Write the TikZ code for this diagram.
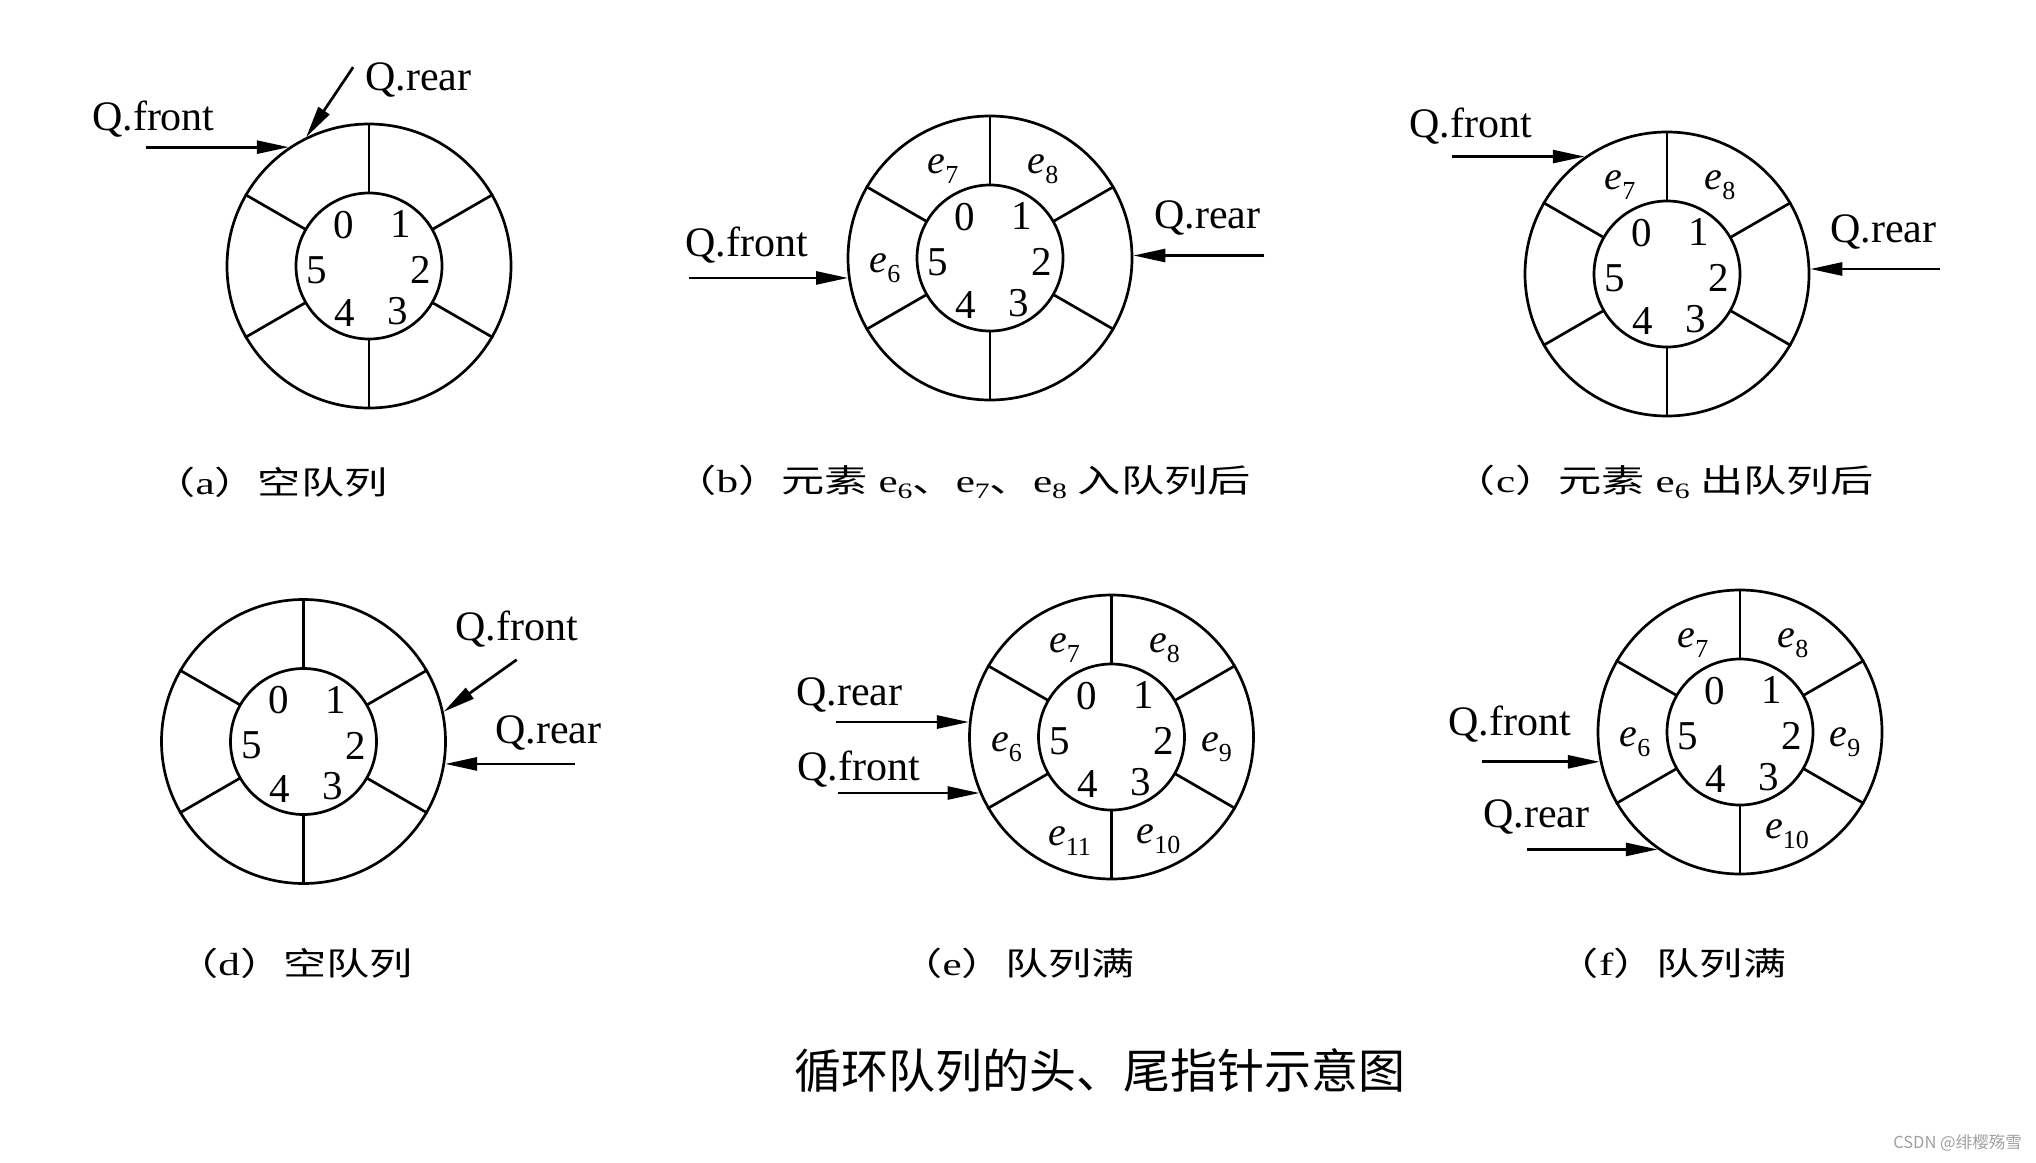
\documentclass[tikz,border=0pt]{standalone}
\usepackage{fontspec}
\usepackage{graphicx}
\setmainfont{Liberation Serif}
\newfontfamily\cjk{Noto Sans CJK SC}
\usetikzlibrary{arrows.meta,calc}
\newcommand{\esub}[1]{\raisebox{-10pt}{\fontsize{26}{26}\selectfont\upshape #1}}
\newcommand{\csub}[1]{\raisebox{-6pt}{\fontsize{22}{22}\selectfont #1}}
\newcommand{\qring}[3]{%
  \node[ring] (#1) at (#2,#3) {};
  \node[hub] (#1i) at (#2,#3) {};
  \foreach \ang in {90,30,-30,-90,-150,150} \draw[spoke] (#1i.\ang) -- (#1.\ang);
  \node[num] (#1n0) at ($(#1)+(-25,-41)$) {0};
  \node[num] (#1n1) at ($(#1)+(32,-42)$) {1};
  \node[num] (#1n2) at ($(#1)+(52,4)$) {2};
  \node[num] (#1n3) at ($(#1)+(29,45)$) {3};
  \node[num] (#1n4) at ($(#1)+(-24,47)$) {4};
  \node[num] (#1n5) at ($(#1)+(-52,4)$) {5};
}
\begin{document}
\begin{tikzpicture}[x=1pt,y=-1pt,
  ring/.style={circle,draw,line width=2.7pt,minimum size=284pt,inner sep=0pt},
  hub/.style={circle,draw,line width=2.7pt,minimum size=146pt,inner sep=0pt,outer sep=0pt},
  spoke/.style={line width=2.7pt},
  ptr/.style={line width=2.7pt,-{Triangle[length=32pt,width=13pt]}},
  lbl/.style={inner sep=0pt,anchor=base west,font=\fontsize{42}{42}\selectfont},
  num/.style={inner sep=0pt,font=\fontsize{41}{41}\selectfont},
  elem/.style={inner sep=0pt,anchor=base,font=\fontsize{40}{40}\selectfont\itshape},
  captxt/.style={inner sep=0pt},
]
\useasboundingbox (0,0) rectangle (2036,1162);

% (a)
\qring{A}{369}{266}
\coordinate (Aft) at ([xshift=-143pt]A.124);
\coordinate (Art) at ([shift={(47,-70)}]A.116);
\draw[ptr] (Aft) -- (A.124);
\draw[ptr] (Art) -- (A.116);
\node[lbl] (Afl) at (92,130) {Q.front};
\node[lbl] (Arl) at (365,90) {Q.rear};

% (b)
\qring{B}{990}{258}
\node[elem] (Be7) at ($(B)+(-47,-85)$) {e\esub{7}};
\node[elem] (Be8) at ($(B)+(53,-85)$) {e\esub{8}};
\node[elem] (Be6) at ($(B)+(-105,14)$) {e\esub{6}};
\coordinate (Bft) at ([xshift=-159pt]B.188);
\coordinate (Brt) at ([xshift=131pt]B.1);
\draw[ptr] (Bft) -- (B.188);
\draw[ptr] (Brt) -- (B.1);
\node[lbl] (Bfl) at (685,256) {Q.front};
\node[lbl] (Brl) at (1154,228) {Q.rear};

% (c)
\qring{C}{1667}{274}
\node[elem] (Ce7) at ($(C)+(-47,-85)$) {e\esub{7}};
\node[elem] (Ce8) at ($(C)+(53,-85)$) {e\esub{8}};
\coordinate (Cft) at ([xshift=-133pt]C.125);
\coordinate (Crt) at ([xshift=130pt]C.2);
\draw[ptr] (Cft) -- (C.125);
\draw[ptr] (Crt) -- (C.2);
\node[lbl] (Cfl) at (1409,137) {Q.front};
\node[lbl] (Crl) at (1830,242) {Q.rear};

% (d)
\qring{D}{303.5}{741.5}
\coordinate (Dft) at ([shift={(73,-52)}]D.12);
\coordinate (Drt) at ([xshift=130pt]D.-9);
\draw[ptr] (Dft) -- (D.12);
\draw[ptr] (Drt) -- (D.-9);
\node[lbl] (Dfl) at (455,640) {Q.front};
\node[lbl] (Drl) at (495,743) {Q.rear};

% (e)
\qring{E}{1111.5}{737}
\node[elem] (Ee7) at ($(E)+(-47,-85)$) {e\esub{7}};
\node[elem] (Ee8) at ($(E)+(53,-85)$) {e\esub{8}};
\node[elem] (Ee9) at ($(E)+(105,14)$) {e\esub{9}};
\node[elem] (Ee10) at ($(E)+(47,106)$) {e\esub{10}};
\node[elem] (Ee11) at ($(E)+(-42,108)$) {e\esub{11}};
\node[elem] (Ee6) at ($(E)+(-105,14)$) {e\esub{6}};
\coordinate (Ert) at ([xshift=-133pt]E.174);
\coordinate (Eft) at ([xshift=-142pt]E.203);
\draw[ptr] (Ert) -- (E.174);
\draw[ptr] (Eft) -- (E.203);
\node[lbl] (Erl) at (796,705) {Q.rear};
\node[lbl] (Efl) at (797,780) {Q.front};

% (f)
\qring{F}{1740}{732}
\node[elem] (Fe7) at ($(F)+(-47,-85)$) {e\esub{7}};
\node[elem] (Fe8) at ($(F)+(53,-85)$) {e\esub{8}};
\node[elem] (Fe9) at ($(F)+(105,14)$) {e\esub{9}};
\node[elem] (Fe10) at ($(F)+(47,106)$) {e\esub{10}};
\node[elem] (Fe6) at ($(F)+(-105,14)$) {e\esub{6}};
\coordinate (Fft) at ([xshift=-118pt]F.192);
\coordinate (Frt) at ([xshift=-131pt]F.235);
\draw[ptr] (Fft) -- (F.192);
\draw[ptr] (Frt) -- (F.235);
\node[lbl] (Ffl) at (1448,735) {Q.front};
\node[lbl] (Frl) at (1483,827) {Q.rear};

% captions
\node[captxt] (capA) at (270,482) {\scalebox{1.35}[1]{\fontsize{32}{32}\selectfont{\cjk （}a{\cjk ）空队列}}};
\node[captxt] (capB) at (962,482) {\scalebox{1.35}[1]{\fontsize{32}{32}\selectfont{\cjk （}b{\cjk ）元素} e\csub{6}{\cjk 、}e\csub{7}{\cjk 、}e\csub{8} {\cjk 入队列后}}};
\node[captxt] (capC) at (1663,482) {\scalebox{1.35}[1]{\fontsize{32}{32}\selectfont{\cjk （}c{\cjk ）元素} e\csub{6} {\cjk 出队列后}}};
\node[captxt] (capD) at (294,963) {\scalebox{1.35}[1]{\fontsize{32}{32}\selectfont{\cjk （}d{\cjk ）空队列}}};
\node[captxt] (capE) at (1017,963) {\scalebox{1.35}[1]{\fontsize{32}{32}\selectfont{\cjk （}e{\cjk ）队列满}}};
\node[captxt] (capF) at (1671,963) {\scalebox{1.35}[1]{\fontsize{32}{32}\selectfont{\cjk （}f{\cjk ）队列满}}};
\node[captxt] (title) at (1100,1071) {\fontsize{47}{47}\selectfont\cjk 循环队列的头、尾指针示意图};
\node[captxt,anchor=east,text=gray!75] (mark) at (2022,1143) {\fontsize{16.5}{16.5}\selectfont\cjk CSDN @绯樱殇雪};
\end{tikzpicture}
\end{document}
